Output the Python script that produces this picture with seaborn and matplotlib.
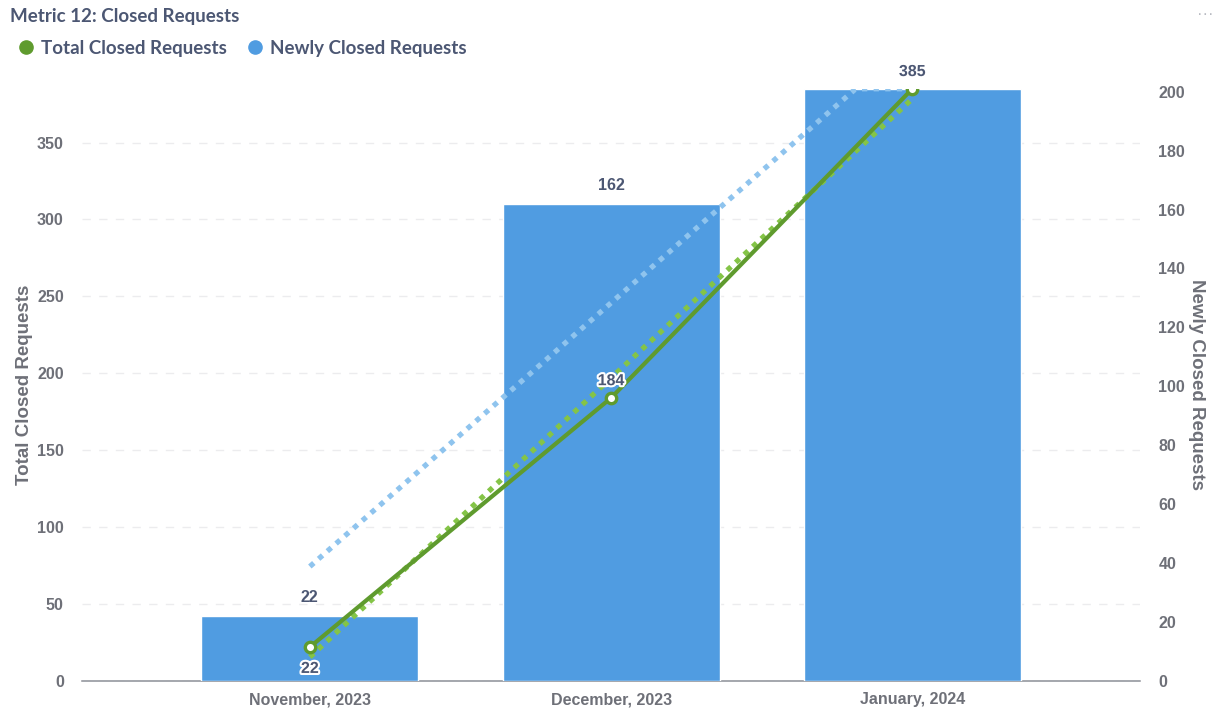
import numpy as np
import pandas as pd
import matplotlib
matplotlib.use("Agg")
import matplotlib.pyplot as plt
import matplotlib.patheffects as pe
from matplotlib.lines import Line2D
import seaborn as sns

# data
months = ["November, 2023", "December, 2023", "January, 2024"]
total_closed = [22, 184, 385]
newly_closed = [22, 162, 201]
left_ticks = [0, 50, 100, 150, 200, 250, 300, 350]
right_ticks = [0, 20, 40, 60, 80, 100, 120, 140, 160, 180, 200]

# colours
BAR_BLUE = "#509ce1"
TREND_BLUE = "#8fc4ee"
LINE_GREEN = "#5f9b2e"
TREND_GREEN = "#84c447"
TEXT_DARK = "#4c5773"
TICK_GRAY = "#6e7078"

sns.set_theme(style="white")
plt.rcParams["font.family"] = ["Liberation Sans", "DejaVu Sans"]

df = pd.DataFrame({"month": months, "total": total_closed, "newly": newly_closed})
df["x"] = np.arange(len(df))

fig = plt.figure(figsize=(12.21, 7.10), dpi=100)
ax = fig.add_axes([0.067, 0.041, 0.867, 0.834])   # left scale, grid only
ax2 = ax.twinx()                                   # right scale, bars
ax3 = ax.twinx()                                   # left scale, lines on top

xlim = (-0.757, 2.757)

# bars (right axis)
sns.barplot(data=df, x="x", y="newly", ax=ax2, color=BAR_BLUE, width=0.72,
            saturation=1, native_scale=True, zorder=2)

# trend of the bars, held at the top of the axis
xs = np.linspace(0, 2, 200)
b_fit = np.polyfit(df["x"], df["newly"], 1)
b_trend = np.minimum(np.polyval(b_fit, xs), max(newly_closed))
sns.lineplot(x=xs, y=b_trend, ax=ax2, color=TREND_BLUE, linewidth=3.8,
             linestyle=(0, (1, 1.2)), zorder=3)

# total line and its trend (left axis)
t_fit = np.polyfit(df["x"], df["total"], 1)
sns.lineplot(x=xs, y=np.polyval(t_fit, xs), ax=ax3, color=TREND_GREEN,
             linewidth=3.8, linestyle=(0, (1, 1.2)), zorder=3)
sns.lineplot(data=df, x="x", y="total", ax=ax3, color=LINE_GREEN, linewidth=3.0,
             marker="o", markersize=7.5, markerfacecolor="white",
             markeredgecolor=LINE_GREEN, markeredgewidth=2.4, zorder=4)

for a in (ax, ax2, ax3):
    a.set_facecolor("none")
ax.set_ylim(0, max(total_closed))
ax3.set_ylim(0, max(total_closed))
ax2.set_ylim(0, max(newly_closed))

# grid on the bottom axes
ax.set_yticks(left_ticks)
ax.yaxis.grid(True, linestyle=(0, (6, 6)), color="#ececee", linewidth=1)
ax.xaxis.grid(False)

halo = [pe.withStroke(linewidth=3, foreground="white")]
lab_kw = dict(ha="center", fontsize=11.5, fontweight="bold", color=TEXT_DARK)

# bar labels (the January one sits under the 385 label)
for i, v in enumerate(newly_closed[:2]):
    ax2.annotate(str(v), (i, v), xytext=(0, 8), textcoords="offset points",
                 va="bottom", **lab_kw)
# line labels
offsets = [(0, -10, "top"), (0, 7, "bottom"), (0, 7, "bottom")]
for i, v in enumerate(total_closed):
    dx, dy, va = offsets[i]
    ax3.annotate(str(v), (i, v), xytext=(dx, dy), textcoords="offset points",
                 va=va, path_effects=halo, zorder=6, **lab_kw)

# axes styling (x is shared, so set it last and only once)
ax.set_xticks(df["x"])
ax.set_xticklabels(months)
ax.set_xlim(*xlim)
for a in (ax2, ax3):
    a.set_xlabel("")
    a.tick_params(axis="x", labelbottom=False, length=0)
ax3.set_yticks([])
ax3.set_ylabel("")
ax2.set_yticks(right_ticks)

tick_kw = dict(labelsize=11.5, labelcolor=TICK_GRAY, length=0)
ax.tick_params(axis="y", pad=13, **tick_kw)
ax.tick_params(axis="x", pad=8, **tick_kw)
ax2.tick_params(axis="y", pad=13, **tick_kw)
for lab in ax.get_xticklabels() + ax.get_yticklabels() + ax2.get_yticklabels():
    lab.set_fontweight("bold")

ax.set_ylabel("Total Closed Requests", fontsize=13.5, fontweight="bold",
              color=TICK_GRAY, labelpad=3)
ax.set_xlabel("")
ax2.set_ylabel("Newly Closed Requests", fontsize=13.5, fontweight="bold",
               color=TICK_GRAY, rotation=270, labelpad=14)

for a in (ax, ax2, ax3):
    for s in a.spines.values():
        s.set_visible(False)
ax.spines["bottom"].set_visible(True)
ax.spines["bottom"].set_color("#8c8f97")
ax.spines["bottom"].set_linewidth(1.1)

# title, legend, menu dots
fig.text(0.008, 0.977, "Metric 12: Closed Requests", fontsize=13.5,
         fontweight="bold", color=TEXT_DARK, family=["Lato", "DejaVu Sans"],
         va="center")
handles = [
    Line2D([], [], marker="o", linestyle="", markersize=9.5,
           markerfacecolor=LINE_GREEN, markeredgecolor=LINE_GREEN),
    Line2D([], [], marker="o", linestyle="", markersize=9.5,
           markerfacecolor=BAR_BLUE, markeredgecolor=BAR_BLUE),
]
leg = fig.legend(handles, ["Total Closed Requests", "Newly Closed Requests"],
                 loc="center left", bbox_to_anchor=(0.0, 0.932), ncol=2,
                 frameon=False, handletextpad=0.3, columnspacing=1.0,
                 handlelength=1.0, prop={"family": ["Lato", "DejaVu Sans"],
                                         "weight": "bold", "size": 13.5})
for t in leg.get_texts():
    t.set_color(TEXT_DARK)
fig.text(0.987, 0.98, "···", fontsize=12, color="#b8bbc2", ha="center",
         va="center")

fig.savefig("out.png", dpi=100)
